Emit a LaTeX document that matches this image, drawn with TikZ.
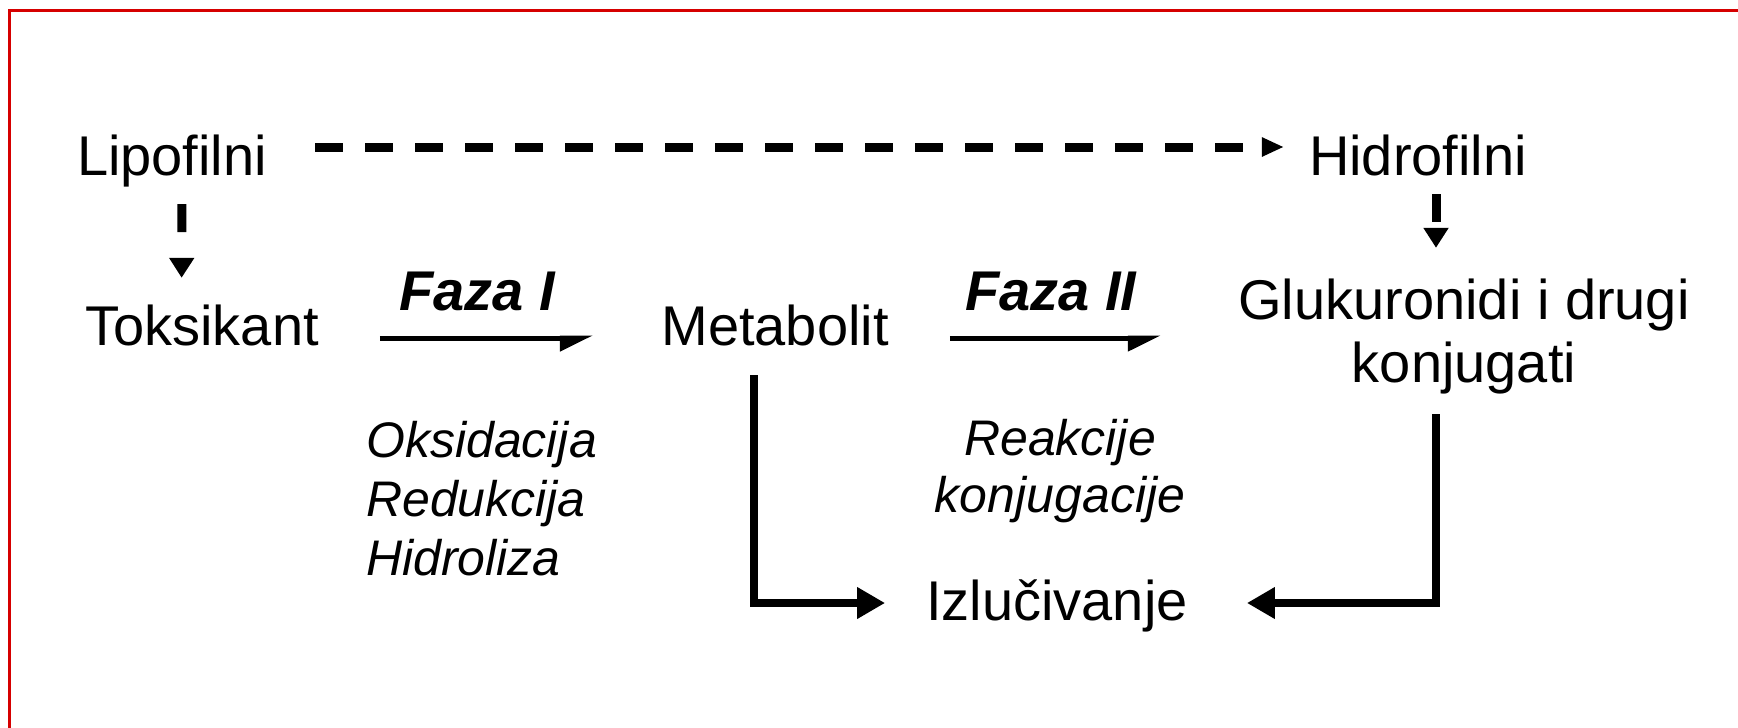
\documentclass[tikz,border=0pt]{standalone}
\usepackage{fontspec}
\setmainfont{Liberation Sans}
\usetikzlibrary{arrows.meta}
\definecolor{framered}{RGB}{214,0,0}
\begin{document}
\begin{tikzpicture}[x=1pt,y=-1pt,
  lbl/.style={inner sep=0pt, text height=40pt, text depth=12pt,
    font=\fontsize{56pt}{62pt}\selectfont},
  phase/.style={inner sep=0pt, font=\fontsize{56pt}{62pt}\selectfont\bfseries\itshape},
  react/.style={inner sep=0pt, font=\fontsize{50pt}{60pt}\selectfont\itshape},
  dashright/.style={line width=9pt, dash pattern=on 28pt off 22pt,
    -{Triangle[length=22pt,width=18pt]}},
  dashdown/.style={line width=9pt, dash pattern=on 28pt off 60pt,
    -{Triangle[length=20pt,width=24pt]}},
  harp/.style={line width=5pt, -{Triangle[harpoon,swap,length=28pt,width=26pt]}},
  lconn/.style={line width=8pt, line join=miter, -{Triangle[length=28pt,width=30pt]}}]

\useasboundingbox (0,0) rectangle (1738,728);
\fill[white] (0,0) rectangle (1738,728);

% frame
\draw[framered, line width=3pt] (9.5,728) -- (9.5,10.5) -- (1738,10.5);

% main labels
\node[lbl, anchor=base] (lipo)  at (172,175)  {Lipofilni};
\node[lbl, anchor=base] (hidro) at (1418,175) {Hidrofilni};
\node[lbl, anchor=base] (toks)  at (202,345)  {Toksikant};
\node[lbl, anchor=base] (meta)  at (775,345)  {Metabolit};
\node[lbl, anchor=base] (gluk1) at (1464,319) {Glukuronidi i drugi};
\node[lbl, anchor=base] (gluk2) at (1464,382) {konjugati};
\node[lbl, anchor=base] (izl)   at (1057,620) {Izlučivanje};

% phase titles
\node[phase, anchor=base] (f1) at (477,310)  {Faza I};
\node[phase, anchor=base] (f2) at (1051,310) {Faza II};

% reaction types
\node[react, anchor=base west] (oks)  at (366,457) {Oksidacija};
\node[react, anchor=base west] (redu) at (366,516) {Redukcija};
\node[react, anchor=base west] (hidr) at (366,575) {Hidroliza};
\node[react, anchor=base] (reak) at (1060,455) {Reakcije};
\node[react, anchor=base] (konj) at (1060,512) {konjugacije};

% dashed arrows
\draw[dashright, shorten <=48pt, shorten >=25pt]
  ([yshift=14pt]lipo.east) -- ([yshift=14pt]hidro.west);
\draw[dashdown, shorten <=17pt, shorten >=27pt]
  ([xshift=10pt]lipo.south) -- ([xshift=-20.5pt]toks.north);
\draw[dashdown, shorten <=7pt, shorten >=31pt]
  ([xshift=18pt]hidro.south) -- ([xshift=-28pt]gluk1.north);

% phase arrows
\draw[harp, shorten <=61pt, shorten >=68pt]
  ([yshift=-7pt]toks.east) -- ([yshift=-7pt]meta.west);
\coordinate (m2) at ([yshift=-7pt]meta.east);
\draw[harp, shorten <=61pt, shorten >=77pt] (m2) -- (m2 -| gluk1.west);

% excretion
\draw[lconn, shorten <=18pt, shorten >=41pt]
  ([xshift=-21pt]meta.south) |- ([yshift=3pt]izl.west);
\draw[lconn, shorten <=20pt, shorten >=59pt]
  ([xshift=-28pt]gluk2.south) |- ([yshift=3pt]izl.east);
\end{tikzpicture}
\end{document}
